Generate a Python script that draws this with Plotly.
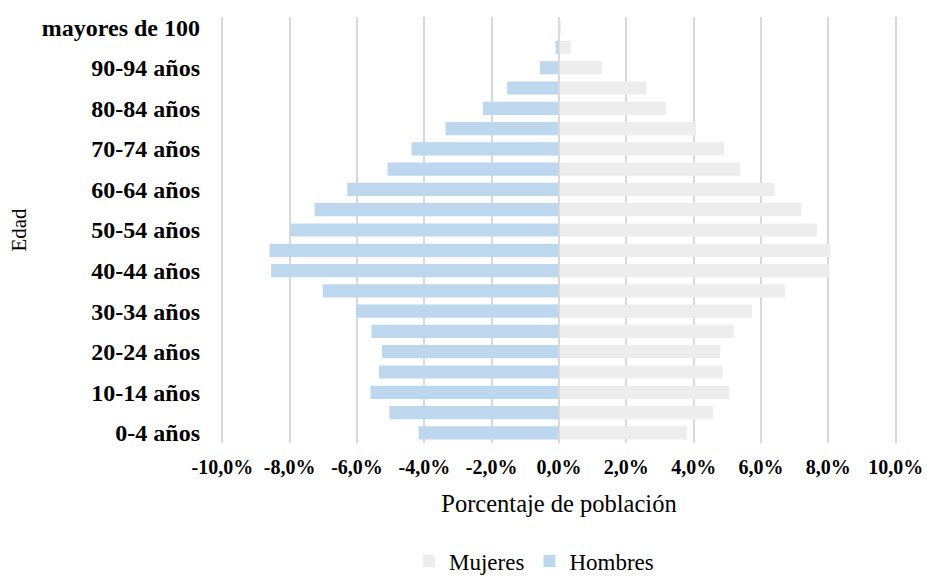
import plotly.graph_objects as go

categorias = ["0-4 años", "5-9 años", "10-14 años", "15-19 años", "20-24 años",
              "25-29 años", "30-34 años", "35-39 años", "40-44 años", "45-49 años",
              "50-54 años", "55-59 años", "60-64 años", "65-69 años", "70-74 años",
              "75-79 años", "80-84 años", "85-89 años", "90-94 años", "95-99 años",
              "mayores de 100"]

mujeres = [3.80, 4.57, 5.06, 4.85, 4.79, 5.19, 5.73, 6.71, 8.03, 8.07,
           7.66, 7.20, 6.41, 5.38, 4.90, 4.07, 3.18, 2.60, 1.28, 0.35, 0.06]

hombres = [-4.17, -5.04, -5.60, -5.35, -5.26, -5.57, -6.03, -7.02, -8.55, -8.60,
           -7.97, -7.26, -6.29, -5.09, -4.38, -3.37, -2.26, -1.54, -0.57, -0.10, -0.02]

x_ticks = [-10, -8, -6, -4, -2, 0, 2, 4, 6, 8, 10]
x_ticktext = ["-10,0%", "-8,0%", "-6,0%", "-4,0%", "-2,0%", "0,0%",
              "2,0%", "4,0%", "6,0%", "8,0%", "10,0%"]

y_ticks = categorias[::2]

FONT = "Liberation Serif, Times New Roman, serif"

fig = go.Figure()
fig.add_trace(go.Bar(y=categorias, x=mujeres, name="Mujeres", orientation="h",
                     marker=dict(color="#EDEDED", line=dict(width=0))))
fig.add_trace(go.Bar(y=categorias, x=hombres, name="Hombres", orientation="h",
                     marker=dict(color="#BDD7EE", line=dict(width=0))))

fig.add_shape(type="line", xref="x", yref="paper", x0=0, x1=0, y0=0, y1=1,
              line=dict(color="#D9D9D9", width=1.5), layer="above")

fig.update_layout(
    width=927, height=576,
    barmode="relative", bargap=0.35,
    plot_bgcolor="white", paper_bgcolor="white",
    margin=dict(l=221, r=30, t=17, b=133, autoexpand=False),
    font=dict(family=FONT, color="black"),
    showlegend=True,
    legend=dict(orientation="h", x=0.463, xanchor="center", y=-0.277, yanchor="middle",
                font=dict(size=23, family=FONT), itemwidth=30,
                traceorder="normal"),
    xaxis=dict(range=[-10.04, 10.04], tickvals=x_ticks, ticktext=x_ticktext,
               showgrid=True, gridcolor="#D9D9D9", gridwidth=1.5,
               zeroline=False, showline=False, automargin=False,
               tickfont=dict(size=20, family=FONT, color="black", weight="bold"),
               ticks="", ticklabelstandoff=10,
               title=dict(text="Porcentaje de población", standoff=17,
                          font=dict(size=24.5, family=FONT, color="black"))),
    yaxis=dict(type="category", categoryorder="array", categoryarray=categorias,
               tickvals=y_ticks, ticktext=y_ticks,
               showgrid=False, zeroline=False, showline=False, automargin=False,
               tickfont=dict(size=24, family=FONT, color="black", weight="bold"),
               ticks="", ticklabelstandoff=20,
               title=dict(text="Edad", standoff=9,
                          font=dict(size=21, family=FONT, color="black"))),
)

fig.write_html(
    "out.html",
    config={"displayModeBar": False},
    post_script="document.body.style.margin='0';document.body.style.overflow='hidden';"
                "document.documentElement.style.overflow='hidden';",
)
